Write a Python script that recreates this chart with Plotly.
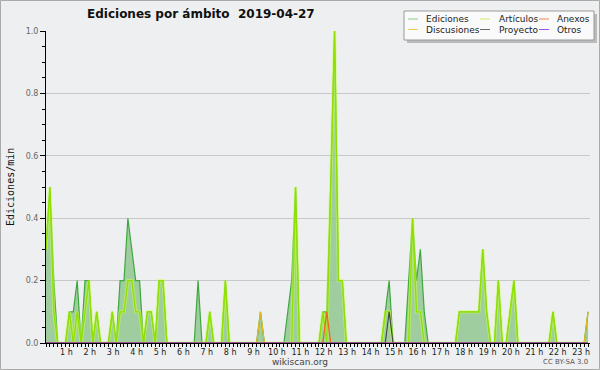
import plotly.graph_objects as go

# ---- data: 10-minute bins, edits per minute ----
bin_minutes = list(range(0, 1400, 10))  # 0:00 .. 23:10

ediciones = [
    0.3, 0.5, 0.2, 0, 0, 0, 0.1, 0.1, 0.2, 0,          # 0-9
    0.2, 0.2, 0, 0.1, 0, 0, 0, 0.1, 0, 0.2,            # 10-19
    0.2, 0.4, 0.3, 0.2, 0.2, 0, 0.1, 0.1, 0, 0.2,      # 20-29
    0.2, 0, 0, 0, 0, 0, 0, 0, 0, 0.2,                  # 30-39
    0, 0, 0.1, 0, 0, 0, 0.2, 0, 0, 0,                  # 40-49
    0, 0, 0, 0, 0, 0.1, 0, 0, 0, 0,                    # 50-59
    0, 0, 0.1, 0.2, 0.5, 0, 0, 0, 0, 0,                # 60-69
    0, 0.1, 0.1, 0.5, 1.0, 0.2, 0.2, 0, 0, 0,          # 70-79
    0, 0, 0, 0, 0, 0, 0, 0.1, 0.2, 0,                  # 80-89
    0, 0, 0, 0.2, 0.4, 0.2, 0.3, 0.1, 0, 0,            # 90-99
    0, 0, 0, 0, 0, 0, 0.1, 0.1, 0.1, 0.1,              # 100-109
    0.1, 0.1, 0.3, 0.1, 0, 0, 0.2, 0, 0, 0.1,          # 110-119
    0.2, 0, 0, 0, 0, 0, 0, 0, 0, 0,                    # 120-129
    0.1, 0, 0, 0, 0, 0, 0, 0, 0, 0.1,                  # 130-139
]

articulos = [
    0.3, 0.5, 0.1, 0, 0, 0, 0.1, 0, 0.1, 0,
    0.1, 0.2, 0, 0.1, 0, 0, 0, 0.1, 0, 0.1,
    0.1, 0.2, 0.2, 0.1, 0.1, 0, 0.1, 0.1, 0, 0.2,
    0.2, 0, 0, 0, 0, 0, 0, 0, 0, 0,
    0, 0, 0.1, 0, 0, 0, 0.2, 0, 0, 0,
    0, 0, 0, 0, 0, 0, 0, 0, 0, 0,
    0, 0, 0, 0, 0.5, 0, 0, 0, 0, 0,
    0, 0.1, 0, 0.5, 1.0, 0.2, 0.2, 0, 0, 0,
    0, 0, 0, 0, 0, 0, 0, 0.1, 0.1, 0,
    0, 0, 0, 0, 0.4, 0.1, 0.1, 0, 0, 0,
    0, 0, 0, 0, 0, 0, 0.1, 0.1, 0.1, 0.1,
    0.1, 0.1, 0.3, 0.1, 0, 0, 0.2, 0, 0, 0.1,
    0.2, 0, 0, 0, 0, 0, 0, 0, 0, 0,
    0.1, 0, 0, 0, 0, 0, 0, 0, 0, 0,
]

anexos = [0] * 140
anexos[72] = 0.1
discusiones = [0] * 140
discusiones[55] = 0.1
discusiones[139] = 0.1
proyecto = [0] * 140
proyecto[88] = 0.1
otros = [0] * 140

hour_ticks = list(range(1, 24))
hour_labels = [f"{h} h" for h in hour_ticks]
y_ticks = [0.0, 0.2, 0.4, 0.6, 0.8, 1.0]

legend_items = [
    ("Ediciones", "#88cc88"), ("Artículos", "#ccee66"), ("Anexos", "#ee8855"),
    ("Discusiones", "#eecc55"), ("Proyecto", "#666666"), ("Otros", "#9955ee"),
]

# ---- figure ----
x_hours = [m / 60 for m in bin_minutes]
BG = "#eeeff0"
L, R, T, B = 46, 10, 31, 27
W, H = 600, 370
PW, PH = W - L - R, H - T - B


def px(x):
    return (x - L) / PW


def py(y):
    return (H - B - y) / PH


fig = go.Figure()
fig.add_trace(go.Scatter(x=x_hours, y=ediciones, mode="lines", fill="tozeroy",
                         fillcolor="rgba(140,196,140,0.80)",
                         line=dict(color="#3fa83f", width=1.2), hoverinfo="skip"))
fig.add_trace(go.Scatter(x=x_hours, y=articulos, mode="lines",
                         line=dict(color="rgba(200,255,80,0.55)", width=3.2), hoverinfo="skip"))
fig.add_trace(go.Scatter(x=x_hours, y=articulos, mode="lines",
                         line=dict(color="#8fe000", width=1.3), hoverinfo="skip"))
fig.add_trace(go.Scatter(x=x_hours, y=discusiones, mode="lines",
                         line=dict(color="#e0b820", width=1.3), hoverinfo="skip"))
fig.add_trace(go.Scatter(x=x_hours, y=anexos, mode="lines",
                         line=dict(color="#ee6622", width=1.3), hoverinfo="skip"))
fig.add_trace(go.Scatter(x=x_hours, y=proyecto, mode="lines",
                         line=dict(color="#444444", width=1.1), hoverinfo="skip"))
fig.add_trace(go.Scatter(x=x_hours, y=otros, mode="lines",
                         line=dict(color="#9955ee", width=1.1), hoverinfo="skip"))

fig.update_layout(
    width=W, height=H, margin=dict(l=L, r=R, t=T, b=B, autoexpand=False),
    paper_bgcolor=BG, plot_bgcolor=BG, showlegend=False,
    font=dict(family="DejaVu Sans", size=8, color="#333"),
)
fig.update_xaxes(
    range=[0, 23.25], showline=True, linecolor="black", linewidth=1,
    showgrid=False, zeroline=False, automargin=False,
    tickmode="array", tickvals=hour_ticks, ticktext=hour_labels,
    ticks="outside", ticklen=3, tickcolor="black", tickwidth=1,
    tickfont=dict(family="DejaVu Sans", size=8, color="#222"),
    ticklabelshift=-3, ticklabelstandoff=-2,
    minor=dict(dtick=1 / 6, tick0=0, ticks="outside", ticklen=3, tickcolor="black", showgrid=False),
)
fig.update_yaxes(
    range=[0, 1.0], showline=True, linecolor="black", linewidth=1,
    showgrid=True, gridcolor="#c8c8c8", gridwidth=1, zeroline=False, automargin=False,
    tickmode="array", tickvals=y_ticks, tickformat=".1f",
    ticks="outside", ticklen=5, tickcolor="black",
    tickfont=dict(family="DejaVu Sans", size=8, color="#666"),
    minor=dict(dtick=0.05, tick0=0, ticks="outside", ticklen=3, tickcolor="black", showgrid=False),
)

ann = []
ann.append(dict(text="Ediciones/min", x=px(10), y=0.5, xref="paper", yref="paper", textangle=-90,
                xanchor="center", yanchor="middle", showarrow=False,
                font=dict(family="DejaVu Sans Mono", size=10, color="#111")))
ann.append(dict(text="Ediciones por ámbito\u00a0\u00a02019-04-27", x=px(85), y=py(14), xref="paper", yref="paper",
                xanchor="left", yanchor="middle", showarrow=False,
                font=dict(family="DejaVu Sans", size=12, color="#111", weight="bold")))
ann.append(dict(text="wikiscan.org", x=px(300), y=py(362), xref="paper", yref="paper",
                xanchor="center", yanchor="middle", showarrow=False,
                font=dict(family="DejaVu Sans", size=9, color="#444")))
ann.append(dict(text="CC BY-SA 3.0", x=px(590), y=py(362), xref="paper", yref="paper",
                xanchor="right", yanchor="middle", showarrow=False,
                font=dict(family="DejaVu Sans", size=7, color="#555")))

shapes = []
# outer border
shapes.append(dict(type="rect", xref="paper", yref="paper", x0=px(0.5), x1=px(599.5), y0=py(0.5), y1=py(369.5),
                   line=dict(color="#aaaaaa", width=1), layer="below"))
# legend box + shadow
shapes.append(dict(type="rect", xref="paper", yref="paper", x0=px(407), x1=px(597), y0=py(14), y1=py(43),
                   line=dict(width=0), fillcolor="#bbbbbb"))
shapes.append(dict(type="rect", xref="paper", yref="paper", x0=px(404), x1=px(594), y0=py(11), y1=py(40),
                   line=dict(color="#999999", width=1), fillcolor="#fafafa"))
col_line_x = [408, 480, 539]
col_text_x = [424, 497, 555]
row_y = [19, 29.5]
for k, (name, color) in enumerate(legend_items):
    r, c = divmod(k, 3)
    shapes.append(dict(type="line", xref="paper", yref="paper",
                       x0=px(col_line_x[c]), x1=px(col_line_x[c] + 10), y0=py(row_y[r]), y1=py(row_y[r]),
                       line=dict(color=color, width=1)))
    ann.append(dict(text=name, x=px(col_text_x[c]), y=py(row_y[r]), xref="paper", yref="paper",
                    xanchor="left", yanchor="middle", showarrow=False,
                    font=dict(family="DejaVu Sans", size=9, color="#222")))

fig.update_layout(annotations=ann, shapes=shapes)
fig.write_html("out.html", config={"displayModeBar": False},
               post_script="document.body.style.margin='0';document.body.style.background='" + BG + "';")
